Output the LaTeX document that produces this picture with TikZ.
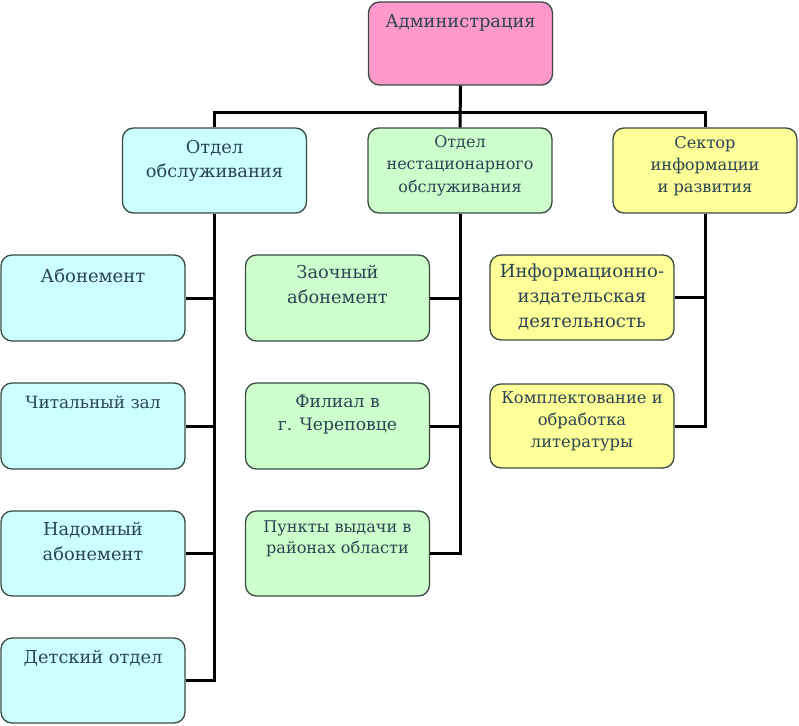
\documentclass[tikz,border=0pt]{standalone}
\usepackage{fontspec}
\setmainfont{DejaVu Serif}
\definecolor{pinkf}{HTML}{FF99CC}
\definecolor{cyanf}{HTML}{CCFFFF}
\definecolor{greenf}{HTML}{CCFFCC}
\definecolor{yellowf}{HTML}{FFFF99}
\definecolor{boxline}{HTML}{3A4A40}
\definecolor{txtcol}{HTML}{2A4452}
\newcommand\bt[5]{\parbox[c][#4pt][t]{180pt}{\centering\fontsize{#1}{#2}\selectfont\vspace*{\dimexpr#3pt-0.7\baselineskip\relax}\strut #5}}
\tikzset{
  box/.style={draw=boxline, line width=1.3pt, rounded corners=11pt, inner sep=0pt,
    minimum width=184pt, text=txtcol},
  conn/.style={line width=3pt, draw=black},
}
\begin{document}
\begin{tikzpicture}[x=1pt,y=-1pt]
\useasboundingbox (0,0) rectangle (799,725);
% top
\node[box, fill=pinkf, minimum height=83pt] (adm) at (460.5,43.5) {\bt{17.8}{25}{25}{83}{Администрация}};
\node[box, fill=cyanf, minimum height=85pt] (L0) at (214.5,170.5) {\bt{17.8}{24}{25}{85}{Отдел\\обслуживания}};
\node[box, fill=greenf, minimum height=85pt] (M0) at (460,170.5) {\bt{16}{22.5}{19}{85}{Отдел\\нестационарного\\обслуживания}};
\node[box, fill=yellowf, minimum height=85pt] (R0) at (705,170.5) {\bt{16.2}{22}{20}{85}{Сектор\\информации\\и развития}};
% left column
\node[box, fill=cyanf, minimum height=86pt] (L1) at (93,298) {\bt{18}{25}{27}{86}{Абонемент}};
\node[box, fill=cyanf, minimum height=86pt] (L2) at (93,426) {\bt{16.9}{25}{25}{86}{Читальный зал}};
\node[box, fill=cyanf, minimum height=85pt] (L3) at (93,553.5) {\bt{17.8}{25}{24}{85}{Надомный\\абонемент}};
\node[box, fill=cyanf, minimum height=85pt] (L4) at (93,680.5) {\bt{17.8}{25}{25}{85}{Детский отдел}};
% middle column
\node[box, fill=greenf, minimum height=86pt] (M1) at (337.5,298) {\bt{17.8}{25}{23}{86}{Заочный\\абонемент}};
\node[box, fill=greenf, minimum height=86pt] (M2) at (337.5,426) {\bt{17.2}{23}{24}{86}{Филиал в\\г. Череповце}};
\node[box, fill=greenf, minimum height=85pt] (M3) at (337.5,553.5) {\bt{16.1}{21}{21}{85}{Пункты выдачи в\\районах области}};
% right column
\node[box, fill=yellowf, minimum height=85pt] (R1) at (582,297.5) {\bt{18}{25}{22}{85}{Информационно-\\издательская\\деятельность}};
\node[box, fill=yellowf, minimum height=84pt] (R2) at (582,426) {\bt{16.3}{22}{19}{84}{Комплектование и\\обработка\\литературы}};
% connectors
\coordinate (bus) at (460,112);
\draw[conn] (adm.south) -- (M0.north);
\draw[conn] (L0.north) |- (bus) -| (R0.north);
\draw[conn] (L0.south) |- (L4.east);
\draw[conn] (L1.east) -- (L1.east -| L0.south);
\draw[conn] (L2.east) -- (L2.east -| L0.south);
\draw[conn] (L3.east) -- (L3.east -| L0.south);
\draw[conn] (M0.south) |- (M3.east);
\draw[conn] (M1.east) -- (M1.east -| M0.south);
\draw[conn] (M2.east) -- (M2.east -| M0.south);
\draw[conn] (R0.south) |- (R2.east);
\draw[conn] (R1.east) -- (R1.east -| R0.south);
\end{tikzpicture}
\end{document}
